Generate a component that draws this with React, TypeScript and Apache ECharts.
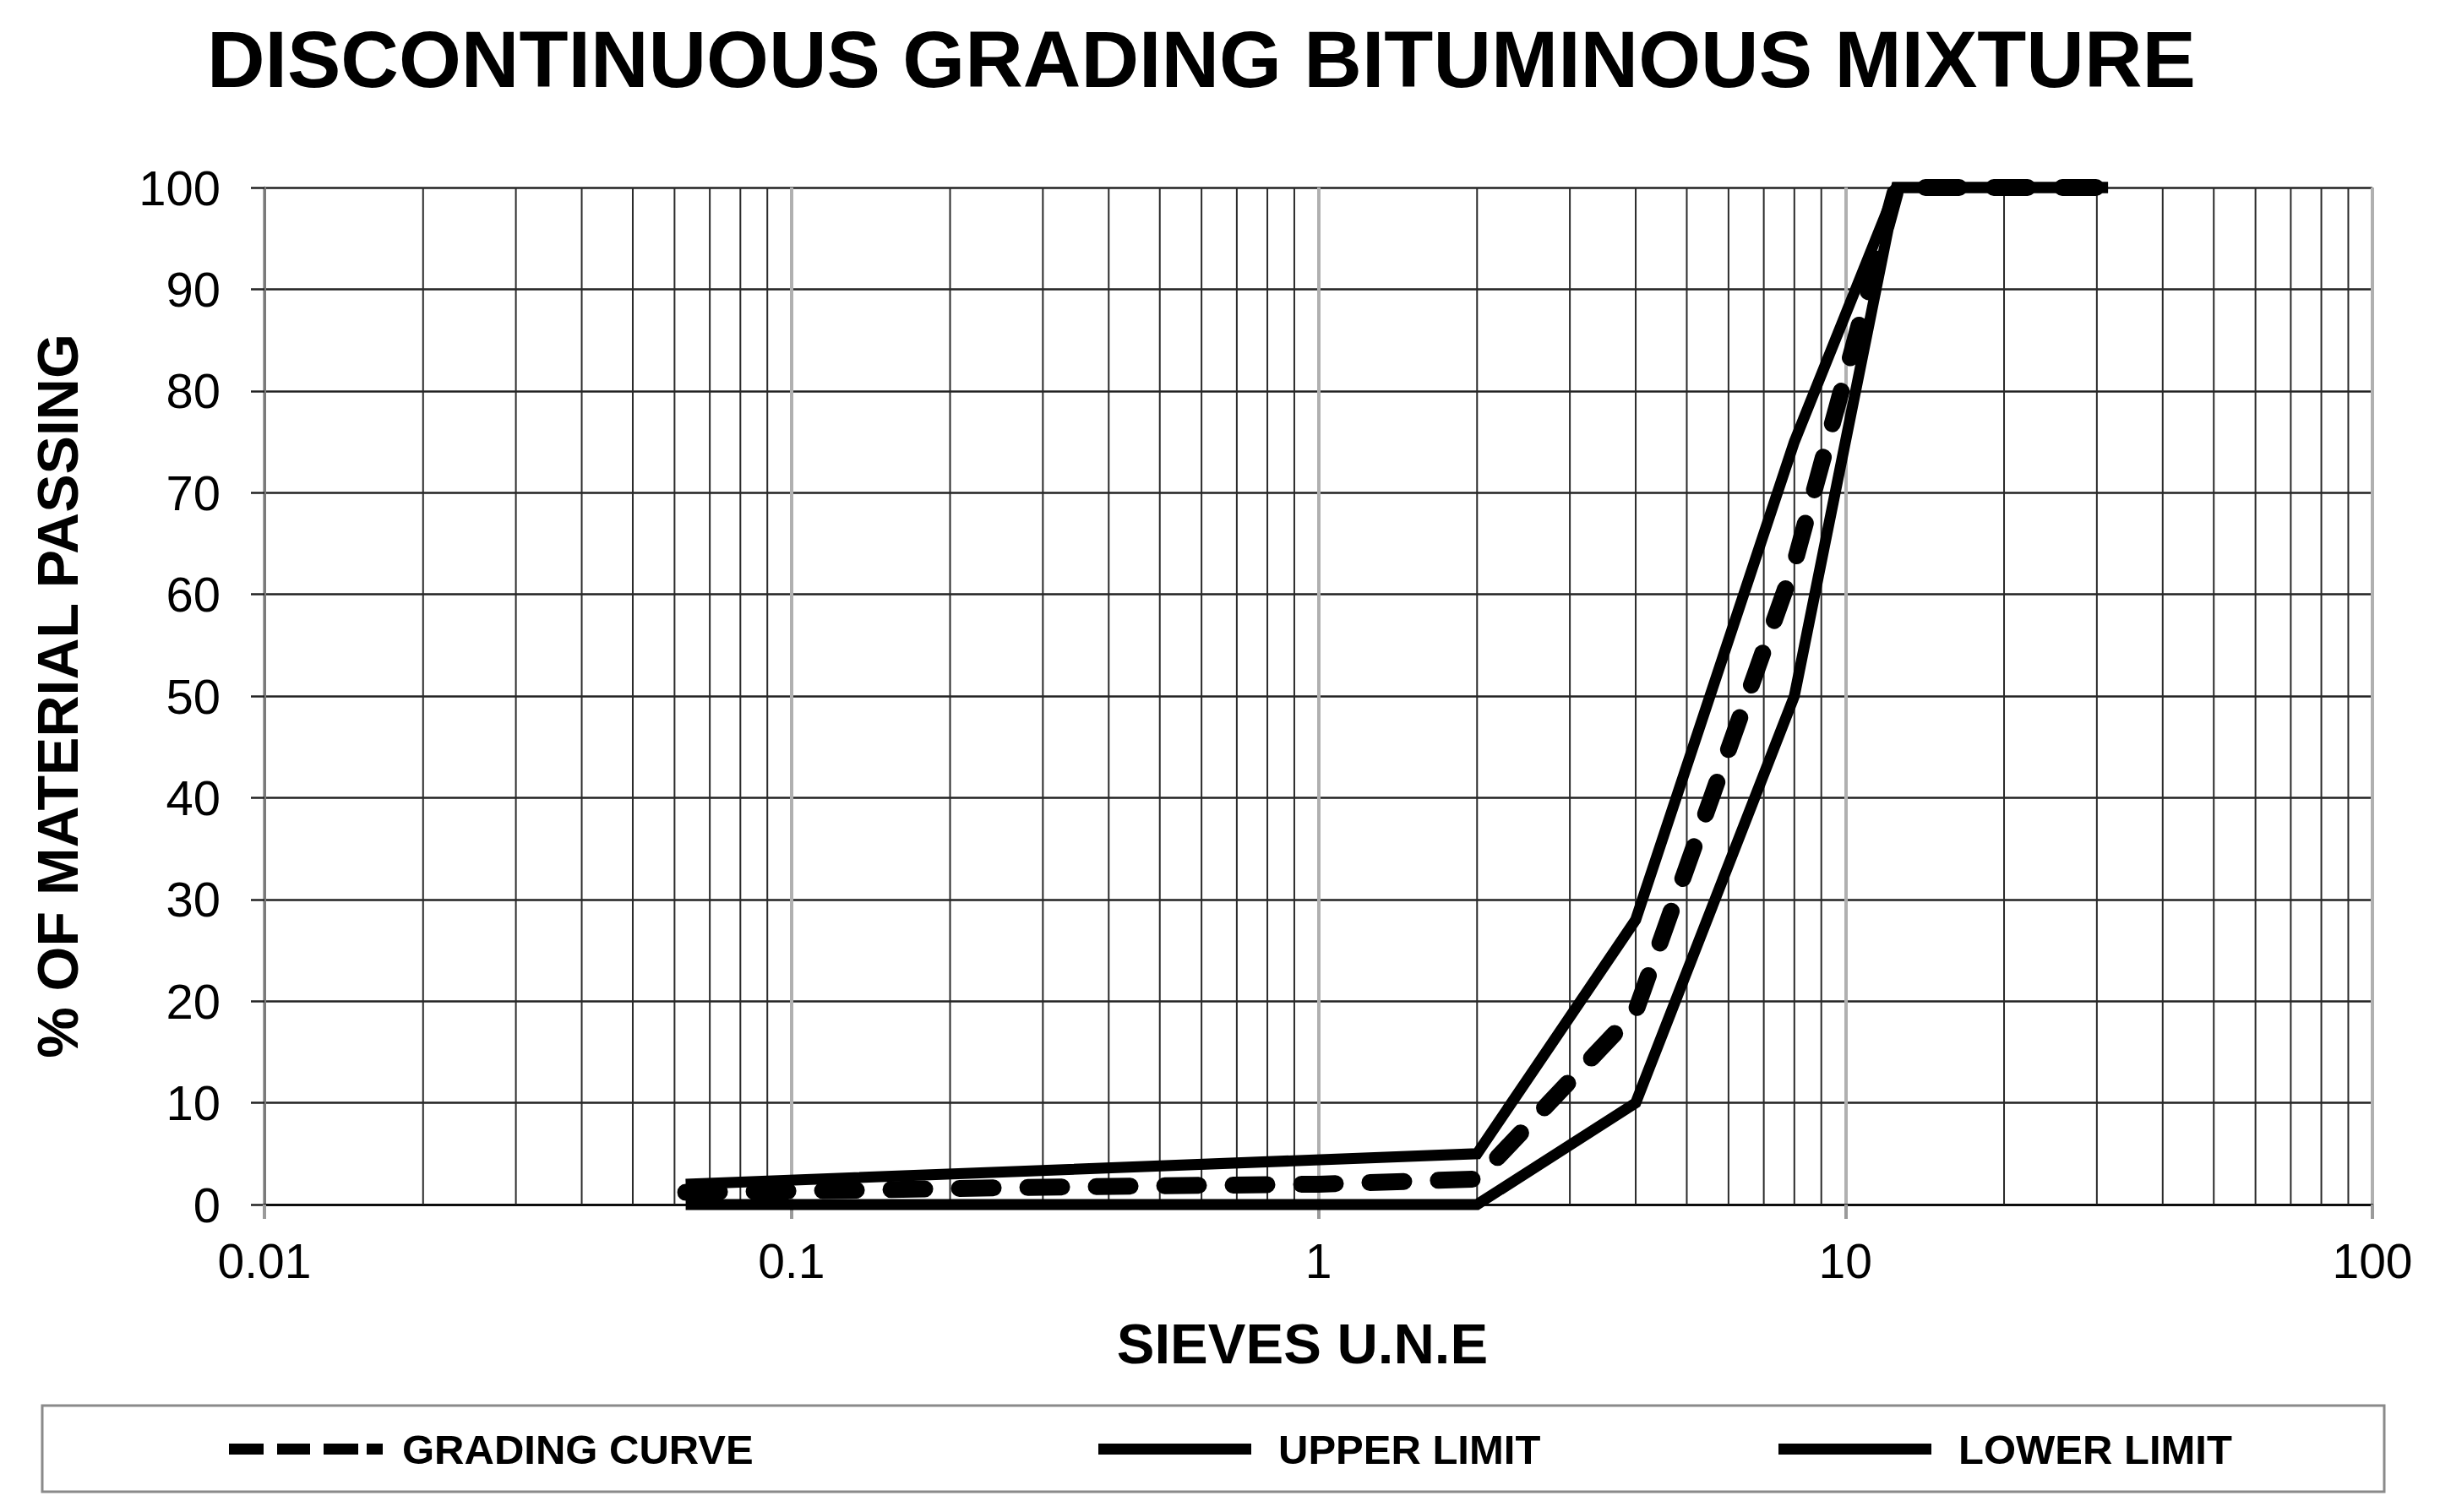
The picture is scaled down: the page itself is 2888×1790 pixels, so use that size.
import React, { useEffect, useRef } from "react";
import * as echarts from "echarts";

const TITLE = "DISCONTINUOUS GRADING BITUMINOUS MIXTURE";
const X_NAME = "SIEVES U.N.E";
const Y_NAME = "% OF MATERIAL PASSING";

const SERIES_NAMES = ["GRADING CURVE", "UPPER LIMIT", "LOWER LIMIT"];

const gradingSieves = [0.063, 0.125, 0.25, 0.5, 1, 2, 4, 8, 12.5, 16, 20, 31.5];
const gradingPassing = [1.2, 1.4, 1.65, 1.85, 2.0, 2.5, 19, 63, 100, 100, 100, 100];

const upperSieves = [0.063, 2, 4, 8, 12.5, 31.5];
const upperPassing = [2, 5, 28, 75, 100, 100];

const lowerSieves = [0.063, 2, 4, 8, 12.5, 31.5];
const lowerPassing = [0, 0, 10, 50, 100, 100];

const minorGridValues = [
  0.02, 0.03, 0.04, 0.05, 0.06, 0.07, 0.08, 0.09,
  0.2, 0.3, 0.4, 0.5, 0.6, 0.7, 0.8, 0.9,
  2, 3, 4, 5, 6, 7, 8, 9,
  20, 30, 40, 50, 60, 70, 80, 90,
];

const FONT = "'Liberation Sans', Arial, sans-serif";

const pairs = (xs: number[], ys: number[]) => xs.map((x, i) => [x, ys[i]]);

export default function App() {
  const ref = useRef<HTMLDivElement>(null);

  useEffect(() => {
    if (!ref.current) return;
    const chart = echarts.init(ref.current, undefined, { renderer: "svg" });

    const legendBase = {
      orient: "horizontal",
      top: 1686,
      itemHeight: 13,
      padding: 5,
      itemStyle: { borderWidth: 0 },
      selectedMode: false,
    };
    const legendText = (padLeft: number) => ({
      fontFamily: FONT,
      fontWeight: "bold",
      fontSize: 49,
      color: "#000",
      padding: [0, 0, 0, padLeft],
    });

    chart.setOption({
      animation: false,
      backgroundColor: "#fff",
      title: {
        text: TITLE,
        left: 245,
        top: 22,
        padding: 0,
        textStyle: {
          fontFamily: FONT,
          fontWeight: "bold",
          fontSize: 95,
          color: "#000",
        },
      },
      grid: { left: 313, right: 80, top: 222, bottom: 364, containLabel: false },
      legend: [
        {
          ...legendBase,
          left: 266,
          itemWidth: 182,
          textStyle: legendText(18),
          data: [{ name: SERIES_NAMES[0], icon: "path://M0 0H41V13H0Z M57 0H96V13H57Z M112 0H153V13H112Z M163 0H182V13H163Z" }],
        },
        {
          ...legendBase,
          left: 1295,
          itemWidth: 181,
          textStyle: legendText(27),
          data: [{ name: SERIES_NAMES[1], icon: "path://M0 0H181V13H0Z" }],
        },
        {
          ...legendBase,
          left: 2100,
          itemWidth: 181,
          textStyle: legendText(27),
          data: [{ name: SERIES_NAMES[2], icon: "path://M0 0H181V13H0Z" }],
        },
      ],
      graphic: [
        {
          type: "rect",
          z: -1,
          shape: { x: 50, y: 1664, width: 2772, height: 102 },
          style: { fill: "none", stroke: "#8a8a8a", lineWidth: 3 },
        },
      ],
      xAxis: {
        type: "log",
        logBase: 10,
        min: 0.01,
        max: 100,
        name: X_NAME,
        nameLocation: "middle",
        nameGap: 131,
        nameTextStyle: {
          fontFamily: FONT,
          fontWeight: "bold",
          fontSize: 67,
          color: "#000",
          padding: [0, 38, 0, 0],
        },
        axisLine: { show: true, onZero: false, lineStyle: { color: "#000", width: 2.5 } },
        axisTick: { show: true, length: 17, lineStyle: { color: "#9a9a9a", width: 4 } },
        axisLabel: {
          fontFamily: FONT,
          fontSize: 57,
          color: "#000",
          margin: 38,
          formatter: (v: number) => String(v),
        },
        splitLine: { show: true, lineStyle: { color: "#b0b0b0", width: 4 } },
      },
      yAxis: {
        type: "value",
        min: 0,
        max: 100,
        interval: 10,
        name: Y_NAME,
        nameLocation: "middle",
        nameRotate: 90,
        nameGap: 211,
        nameTextStyle: {
          fontFamily: FONT,
          fontWeight: "bold",
          fontSize: 68,
          color: "#000",
        },
        axisLine: { show: true, lineStyle: { color: "#7a7a7a", width: 3 } },
        axisTick: { show: true, length: 16, lineStyle: { color: "#222", width: 2.5 } },
        axisLabel: {
          fontFamily: FONT,
          fontSize: 58,
          color: "#000",
          margin: 52,
        },
        splitLine: { show: true, lineStyle: { color: "#222", width: 2.5 } },
      },
      series: [
        {
          type: "custom",
          name: "minor-grid",
          silent: true,
          z: 1,
          clip: false,
          data: minorGridValues.map((v) => [v, 0]),
          encode: { x: 0, y: 1 },
          renderItem: (_params: any, api: any) => {
            const v = api.value(0);
            const top = api.coord([v, 100]);
            const bot = api.coord([v, 0]);
            return {
              type: "line",
              shape: { x1: top[0], y1: top[1], x2: bot[0], y2: bot[1] },
              style: { stroke: "#2a2a2a", lineWidth: 2 },
            };
          },
        },
        {
          type: "line",
          name: SERIES_NAMES[1],
          z: 3,
          clip: false,
          showSymbol: false,
          symbol: "none",
          color: "#000",
          data: pairs(upperSieves, upperPassing),
          lineStyle: { color: "#000", width: 13, join: "miter", cap: "butt" },
        },
        {
          type: "line",
          name: SERIES_NAMES[2],
          z: 3,
          clip: false,
          showSymbol: false,
          symbol: "none",
          color: "#000",
          data: pairs(lowerSieves, lowerPassing),
          lineStyle: { color: "#000", width: 13, join: "miter", cap: "butt" },
        },
        {
          type: "line",
          name: SERIES_NAMES[0],
          z: 4,
          clip: false,
          showSymbol: false,
          symbol: "none",
          color: "#000",
          data: pairs(gradingSieves, gradingPassing),
          lineStyle: { color: "#000", width: 20, type: [40, 41], cap: "round", join: "round" },
        },
      ],
    });

    return () => chart.dispose();
  }, []);

  return (
    <div
      ref={ref}
      style={{ position: "fixed", left: 0, top: 0, width: 2888, height: 1790, background: "#fff" }}
    />
  );
}
